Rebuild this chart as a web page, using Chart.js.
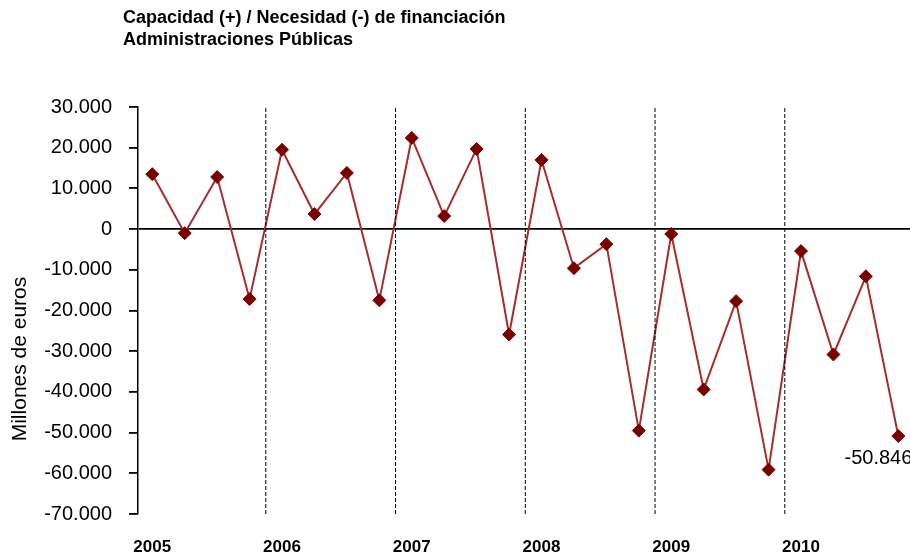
<!DOCTYPE html>
<html>
<head>
<meta charset="utf-8">
<script src="https://cdn.jsdelivr.net/npm/chart.js@4"></script>
<style>
  html, body { margin: 0; padding: 0; background: #fff; }
  #wrap { width: 910px; height: 555px; position: relative; }
</style>
</head>
<body>
<div id="wrap"><canvas id="chart"></canvas></div>
<script>
// ===== DATA =====
const titleLines = ['Capacidad (+) / Necesidad (-) de financiación', 'Administraciones Públicas'];
const yTitle = 'Millones de euros';
const years = ['2005', '2006', '2007', '2008', '2009', '2010'];
// saldo trimestral, millones de euros (2005 T1 .. 2010 T4)
const values = [
  13500, -1000, 12800, -17200,
  19500, 3700, 13800, -17500,
  22400, 3200, 19700, -25900,
  17000, -9600, -3700, -49500,
  -1200, -39400, -17700, -59100,
  -5400, -30800, -11600, -50846
];
const yTicks = [30000, 20000, 10000, 0, -10000, -20000, -30000, -40000, -50000, -60000, -70000];
const labelledIndex = 23;

const lineColor = '#a32e2e';
const markerColor = '#7a0000';
const fontFamily = '"Liberation Sans", Arial, sans-serif';

function fmt(v) {
  const s = Math.abs(v).toString().replace(/\B(?=(\d{3})+(?!\d))/g, '.');
  return (v < 0 ? '-' : '') + s;
}

// dashed separators between years
const separators = years.slice(1).map((y, i) => ({
  type: 'line',
  data: [{x: (i + 1) * 4 - 0.5, y: yTicks[yTicks.length - 1]}, {x: (i + 1) * 4 - 0.5, y: yTicks[0]}],
  borderColor: '#000',
  borderWidth: 1,
  borderDash: [4, 2],
  pointRadius: 0,
  fill: false
}));

const mainSeries = {
  type: 'line',
  data: values.map((v, i) => ({x: i, y: v})),
  borderColor: lineColor,
  borderWidth: 2,
  pointStyle: 'rectRot',
  pointRadius: 6.5,
  pointBackgroundColor: markerColor,
  pointBorderColor: markerColor,
  pointBorderWidth: 1,
  tension: 0
};

// ===== TEXT PLUGIN =====
const textPlugin = {
  id: 'texts',
  afterDraw(chart) {
    const ctx = chart.ctx;
    ctx.save();
    ctx.fillStyle = '#000';
    ctx.font = 'bold 18px ' + fontFamily;
    ctx.textAlign = 'left';
    ctx.textBaseline = 'middle';
    ctx.fillText(titleLines[0], 123, 18);
    ctx.fillText(titleLines[1], 123, 40);

    ctx.font = '21px ' + fontFamily;
    ctx.translate(20, 359);
    ctx.rotate(-Math.PI / 2);
    ctx.textAlign = 'center';
    ctx.fillText(yTitle, 0, 0);
    ctx.restore();

    const meta = chart.getDatasetMeta(chart.data.datasets.length - 1);
    const pt = meta.data[labelledIndex];
    ctx.save();
    ctx.fillStyle = '#000';
    ctx.font = '20px ' + fontFamily;
    ctx.textAlign = 'right';
    ctx.textBaseline = 'middle';
    ctx.fillText(fmt(values[labelledIndex]), pt.x + 14, pt.y + 22);
    ctx.restore();
  }
};

// ===== CHART =====
new Chart(document.getElementById('chart'), {
  data: { datasets: [...separators, mainSeries] },
  options: {
    responsive: true,
    maintainAspectRatio: false,
    animation: false,
    layout: { autoPadding: false, padding: { top: 107, right: 0, bottom: 0, left: 0 } },
    plugins: { legend: { display: false }, tooltip: { enabled: false } },
    scales: {
      x: {
        type: 'linear',
        min: -0.44,
        max: 23.36,
        grid: { display: false, drawTicks: false },
        border: { display: false },
        afterBuildTicks: axis => { axis.ticks = years.map((y, i) => ({value: i * 4})); },
        afterFit: axis => { axis.height = 41; },
        ticks: {
          autoSkip: false,
          maxRotation: 0,
          padding: 23,
          color: '#000',
          font: { family: fontFamily, size: 17, weight: 'bold' },
          callback: (v) => years[Math.round(v / 4)]
        }
      },
      y: {
        min: -70000,
        max: 30000,
        afterBuildTicks: axis => { axis.ticks = yTicks.map(v => ({value: v})); },
        afterFit: axis => { axis.width = 138; },
        border: { display: true, color: '#000', width: 1.5 },
        grid: {
          color: c => c.tick && c.tick.value === 0 ? '#000' : 'rgba(0,0,0,0)',
          lineWidth: 1.8,
          tickColor: '#000',
          tickLength: 9
        },
        ticks: {
          padding: 17,
          color: '#000',
          font: { family: fontFamily, size: 20 },
          callback: v => fmt(v)
        }
      }
    }
  },
  plugins: [textPlugin]
});
</script>
</body>
</html>
